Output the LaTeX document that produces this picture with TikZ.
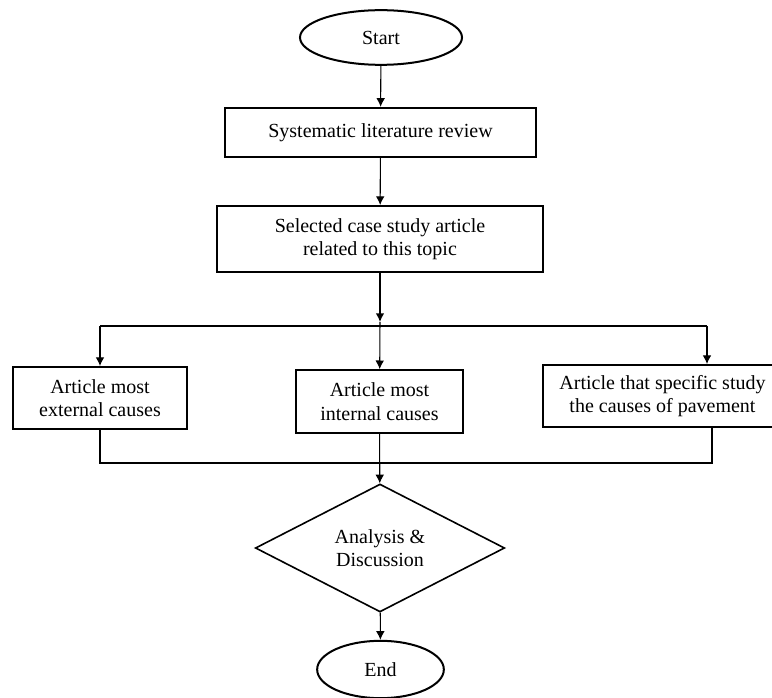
\documentclass[tikz,border=0pt]{standalone}
\usepackage{fontspec}
\setmainfont{Liberation Serif}
\usepackage{tikz}
\usetikzlibrary{arrows.meta}
\usetikzlibrary{shapes.geometric}
\tikzset{
 flowtext/.style = {font=\fontsize{15}{17.5}\selectfont, align=center},
 boxnode/.style = {draw, line width=1.5pt, inner sep=0pt, flowtext},
 termnode/.style = {ellipse, draw, line width=1.5pt, inner sep=0pt, flowtext},
 decnode/.style = {diamond, draw, line width=1.2pt, inner sep=0pt, flowtext},
 conn/.style = {black, line width=0.8pt, >={Latex[length=6.5pt, width=6.5pt]}}
}

\begin{document}
\begin{tikzpicture} [x=.75pt, y=-.75pt]
\useasboundingbox (0,0) rectangle (772,698);
\node[termnode, minimum width=121.5pt, minimum height=41pt] (start) at (381,37.5) {Start};
\node[boxnode, minimum width=233pt, minimum height=37pt] (review) at (380.5,132.5) {Systematic literature review};
\node[boxnode, minimum width=244.5pt, minimum height=49.5pt] (select) at (380,239) {Selected case study article\\related to this topic};
\node[boxnode, minimum width=130.5pt, minimum height=46.5pt] (extern) at (100,398) {Article most\\external causes};
\node[boxnode, minimum width=125pt, minimum height=47pt] (intern) at (379.5,401.5) {Article most\\internal causes};
\node[boxnode, minimum width=179pt, minimum height=46.5pt] (special) at (662.5,396) {Article that specific study\\the causes of pavement};
\node[decnode, minimum width=187pt, minimum height=85.5pt] (discuss) at (380,548) {Analysis \&\\Discussion};
\node[termnode, minimum width=95pt, minimum height=43pt] (finish) at (380.5,669.5) {End};
\coordinate (split) at (380,322);
\coordinate (splitL) at (100,326);
\coordinate (splitR) at (707,326);
\coordinate (joinL) at (100,463);
\coordinate (joinR) at (712,463);
\draw[conn, ->] (start) -- (review);
\draw[conn, ->] (review) -- (select);
\draw[conn, ->, line width=1.1pt] (select) -- (split);
\draw[conn] (splitL) -- (splitR);
\draw[conn, ->] (splitL) -- (extern);
\draw[conn, ->] (split) -- (intern);
\draw[conn, ->] (splitR) -- (splitR |- special.north);
\draw[conn] (extern.south) -- (joinL) -- (joinR) -- (joinR |- special.south);
\draw[conn, ->] (intern) -- (discuss);
\draw[conn, ->] (discuss) -- (finish);
\end{tikzpicture}
\end{document}
